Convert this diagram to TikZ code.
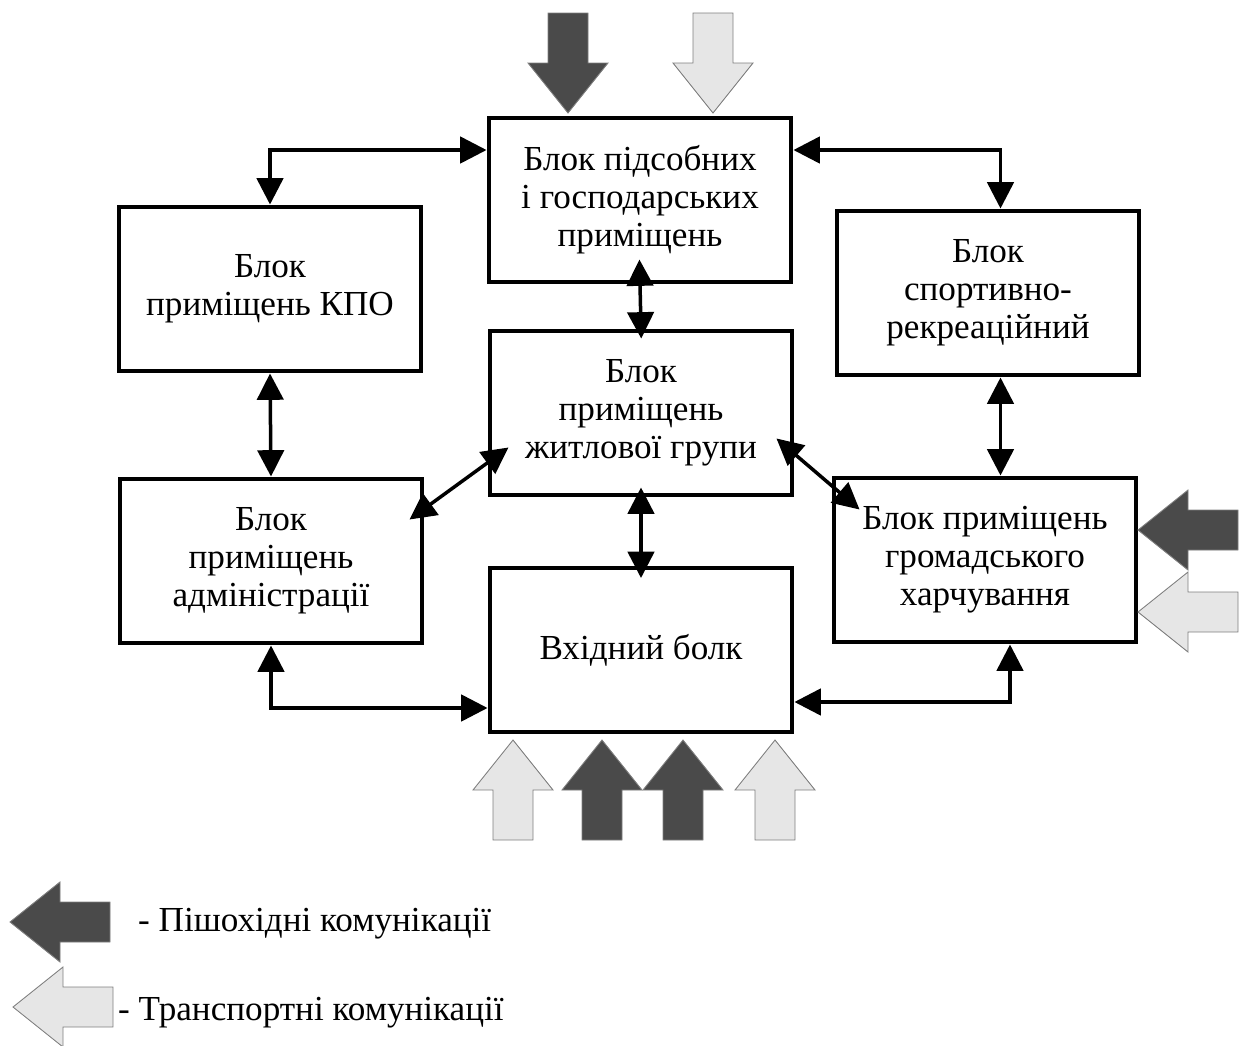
\documentclass[tikz,border=0pt]{standalone}
\usepackage{fontspec}
\setmainfont{Liberation Serif}
\usetikzlibrary{positioning, arrows.meta}
\definecolor{walkGray}{HTML}{4A4A4A}
\definecolor{carGray}{HTML}{E6E6E6}
\definecolor{edgeGray}{HTML}{7F7F7F}

% big flow arrow, tip at (#1,#2), turned by #3
\newcommand{\flowarrow}[4]{%
  \draw[#4, shift={(#1,#2)}, rotate=#3] (0,0) -- (-50,40) -- (-50,20) -- (-100,20)
    -- (-100,-20) -- (-50,-20) -- (-50,-40) -- cycle;}

\begin{document}
\begin{tikzpicture}[x=0.02cm, y=-0.02cm,
      block/.style={rectangle, draw=black, line width=0.08cm, fill=white, minimum width=6.06cm, minimum height=3.3cm, align=center, font=\fontsize{20}{21.6}\selectfont},
      link/.style={{Triangle[length=15pt,width=15pt]}-{Triangle[length=15pt,width=15pt]}, line width=0.07cm},
      walk/.style={fill=walkGray, draw=edgeGray, line width=0.5pt},
      car/.style={fill=carGray, draw=edgeGray, line width=0.5pt},
      legend/.style={anchor=west, font=\fontsize{20}{21.6}\selectfont}
    ]
      \useasboundingbox (0,0) rectangle (1241,1045);

      \node[block] (sub) at (640,200) {Блок підсобних\\і господарських\\приміщень};
      \node[block] (kpo) at (270,289) {Блок\\приміщень КПО};
      \node[block] (sport) at (988,293) {Блок\\спортивно-\\рекреаційний};
      \node[block] (zhyt) at (641,413) {Блок\\приміщень\\житлової групи};
      \node[block] (admin) at (271,561) {Блок\\приміщень\\адміністрації};
      \node[block] (harch) at (985,560) {Блок приміщень\\громадського\\харчування};
      \node[block] (vkhid) at (641,650) {Вхідний болк};

      \draw[link] (kpo.north) |- ([yshift=1cm]sub.west);
      \draw[link] ([yshift=1cm]sub.east) -| ([xshift=0.25cm]sport.north);
      \draw[link, shorten <=-0.5cm, shorten >=-0.2cm] (sub.south) -- (zhyt.north);
      \draw[link, shorten <=-0.2cm, shorten >=-0.25cm] (zhyt.south) -- (vkhid.north);
      \draw[link] (kpo.south) -- (admin.north);
      \draw[link] ([xshift=0.25cm]sport.south) -- ([xshift=0.25cm]sport.south |- harch.north);
      \draw[link] ([shift={(-15,43)}]admin.north east) -- ([shift={(21,-50)}]zhyt.south west);
      \draw[link] ([shift={(-18,-59)}]zhyt.south east) -- ([shift={(28,34)}]harch.north west);
      \draw[link] (admin.south) |- ([yshift=-1.16cm]vkhid.west);
      \draw[link] ([xshift=0.5cm]harch.south) |- ([yshift=-1.04cm]vkhid.east);

      % pedestrian and transport inputs
      \flowarrow{568}{113}{-90}{walk}
      \flowarrow{713}{113}{-90}{car}
      \flowarrow{1138}{530}{180}{walk}
      \flowarrow{1138}{612}{180}{car}
      \flowarrow{513}{740}{90}{car}
      \flowarrow{602}{740}{90}{walk}
      \flowarrow{683}{740}{90}{walk}
      \flowarrow{775}{740}{90}{car}

      % legend
      \flowarrow{10}{922}{180}{walk}
      \flowarrow{13}{1007}{180}{car}
      \node[legend] (walkText) at (132,924) {- Пішохідні комунікації};
      \node[legend] (carText) at (112,1013) {- Транспортні комунікації};
\end{tikzpicture}
\end{document}
